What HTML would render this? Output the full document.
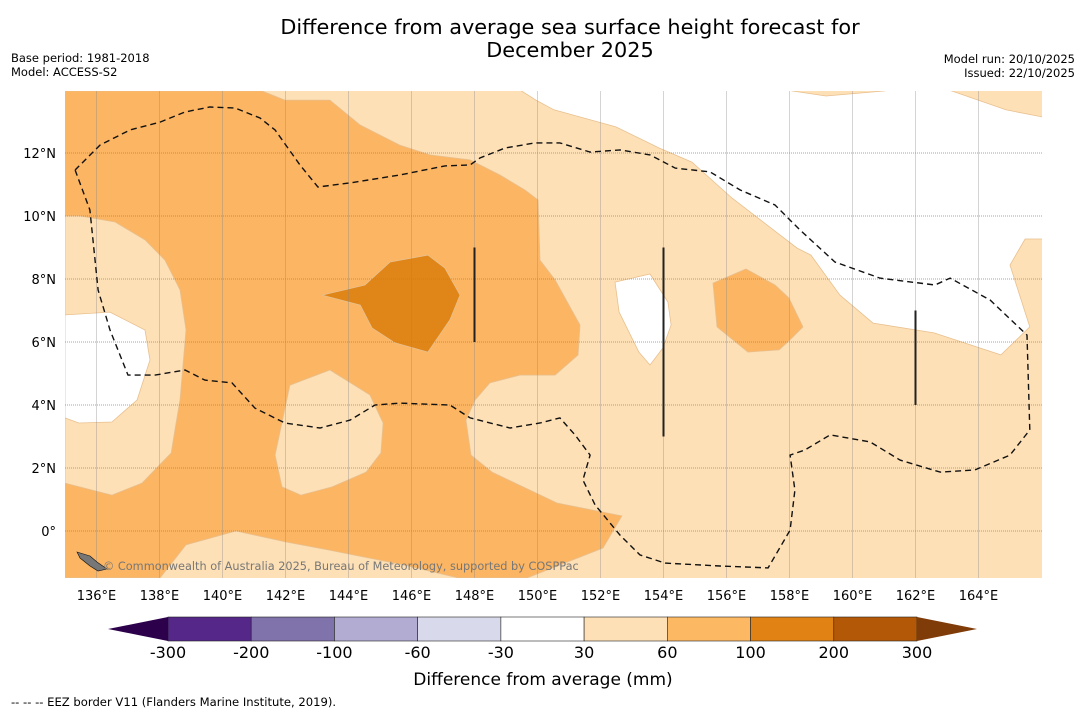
<!DOCTYPE html>
<html><head><meta charset="utf-8"><style>
body{margin:0;background:#fff;width:1085px;height:713px;overflow:hidden;font-family:"Liberation Sans","DejaVu Sans",sans-serif}
</style></head><body>
<svg id="c" width="1085" height="713" xmlns="http://www.w3.org/2000/svg" font-family="DejaVu Sans, Liberation Sans, sans-serif">
<text x="570" y="34" text-anchor="middle" font-size="20.8">Difference from average sea surface height forecast for</text>
<text x="570" y="57" text-anchor="middle" font-size="20.8">December 2025</text>
<text x="11" y="62" font-size="11.5">Base period: 1981-2018</text>
<text x="11" y="76" font-size="11.5">Model: ACCESS-S2</text>
<text x="1075" y="63" font-size="11.5" text-anchor="end">Model run: 20/10/2025</text>
<text x="1075" y="77" font-size="11.5" text-anchor="end">Issued: 22/10/2025</text>
<defs><clipPath id="mc"><rect x="65" y="91" width="977" height="487"/></clipPath></defs>
<g id="map" clip-path="url(#mc)"></g>
<g id="axes"></g>
<g id="cbar"></g>
<text x="11" y="706" font-size="11.6">--  --  -- EEZ border V11 (Flanders Marine Institute, 2019).</text>
</svg>
<script>
const lonTicks=[136,138,140,142,144,146,148,150,152,154,156,158,160,162,164];
const latTicks=[0,2,4,6,8,10,12];
const cbLevels=["-300","-200","-100","-60","-30","30","60","100","200","300"];
const cbColors=["#542788","#8073ac","#b2abd2","#d8daeb","#ffffff","#fee0b6","#fdb863","#e08214","#b35806"];
const cbExtLow="#2d004b", cbExtHigh="#7f3b08";
const orangeRegion=[[135,13.97],[141.25,13.97],[141.98,13.68],[143.41,13.68],[144.37,12.89],[145.63,12.25],[146.59,11.94],[147.86,11.78],[148.81,11.3],[149.6,10.83],[150.02,10.51],[150.08,8.6],[150.56,7.97],[151.35,6.54],[151.29,5.59],[150.56,4.95],[149.44,4.95],[148.49,4.7],[148.02,4.16],[147.73,3.52],[147.89,2.41],[148.56,1.87],[150.62,0.89],[152.68,0.48],[152.08,-0.54],[149.67,-1.49],[147.48,-1.49],[145.76,-1.08],[143.35,-0.6],[142.02,-0.35],[140.43,0],[138.84,-0.44],[138.02,-1.49],[135,-1.49]];
const lightLeft=[[135,10],[135.48,10],[136.59,9.81],[137.54,9.24],[138.17,8.6],[138.65,7.65],[138.84,6.38],[138.65,4.16],[138.49,3.21],[138.37,2.48],[137.44,1.52],[136.49,1.14],[135,1.52]];
const whiteLeft=[[135,6.86],[136.43,6.95],[137.54,6.38],[137.7,5.43],[137.29,4.16],[136.49,3.46],[135.44,3.43],[135,3.59]];
const lightIsland=[[141.67,2.41],[142.14,4.63],[143.41,5.11],[144.68,4.32],[145.1,3.43],[145.03,2.48],[144.56,1.87],[143.48,1.4],[142.49,1.14],[141.89,1.4]];
const darkBlob=[[143.16,7.49],[144.52,7.81],[145.32,8.54],[146.52,8.76],[147.06,8.35],[147.54,7.49],[147.22,6.7],[146.52,5.68],[145.48,5.97],[144.75,6.44],[144.37,7.17]];
const rightBlob=[[155.57,7.87],[156.62,8.32],[157.54,7.81],[157.98,7.4],[158.43,6.48],[157.95,6.0],[157.67,5.75],[156.68,5.68],[155.7,6.48]];
const whiteIsland=[[152.46,7.9],[153.57,8.16],[154.14,7.27],[154.24,6.54],[153.98,5.81],[153.57,5.27],[153.22,5.68],[152.59,6.95]];
const whiteBig=[[149.29,14.1],[149.95,13.68],[150.52,13.37],[152.49,12.83],[153.86,12.16],[154.9,11.71],[156.17,10.57],[158.24,8.98],[158.68,8.76],[159.6,7.49],[160.65,6.6],[162.59,6.29],[164.71,5.59],[165.63,6.48],[165,8.44],[165.48,9.27],[166.5,9.27],[166.5,13.05],[164.87,13.37],[162.78,14.1],[161.03,14.1],[161.03,13.97],[159.16,13.81],[158.08,13.97],[158.08,14.1]];
const eez=[[135.32,11.46],[135.79,10.19],[136.05,7.65],[136.43,6.38],[137,4.95],[137.86,4.95],[138.81,5.11],[139.44,4.79],[140.3,4.7],[141.03,3.9],[141.98,3.43],[143.1,3.27],[144.05,3.52],[144.84,4],[145.63,4.06],[147.22,4],[147.86,3.59],[149.13,3.27],[150.08,3.43],[150.71,3.59],[151.19,3.05],[151.67,2.41],[151.44,1.62],[151.83,0.83],[152.62,-0.13],[153.25,-0.76],[154.05,-1.02],[155.79,-1.11],[157.32,-1.17],[158.02,0.03],[158.17,1.3],[158.02,2.41],[158.49,2.57],[159.29,3.05],[160.56,2.83],[161.51,2.25],[162.78,1.87],[163.89,1.94],[165,2.41],[165.63,3.21],[165.54,6.22],[164.37,7.33],[163.1,8.03],[162.62,7.81],[160.87,8.03],[159.44,8.54],[158.33,9.56],[157.54,10.35],[156.43,10.83],[155.48,11.4],[154.37,11.52],[153.57,11.94],[152.62,12.1],[151.67,12.03],[150.71,12.32],[149.92,12.32],[148.97,12.16],[148.17,11.84],[147.86,11.62],[147.06,11.59],[145.63,11.3],[144.05,11.05],[143.03,10.92],[142.46,11.62],[141.67,12.73],[141.19,13.11],[140.4,13.43],[139.6,13.46],[138.81,13.3],[138.02,12.98],[137.06,12.73],[136.11,12.25],[135.32,11.46]];
const boundaryLines=[[148,6,9],[154,3,9],[162,4,7]];

const NS="http://www.w3.org/2000/svg";
const X=lon=>65+(lon-135)*31.5, Y=lat=>531-lat*31.5;
function mk(tag,attrs,parent){const e=document.createElementNS(NS,tag);for(const k in attrs)e.setAttribute(k,attrs[k]);parent.appendChild(e);return e;}
const map=document.getElementById('map'), axes=document.getElementById('axes'), cb=document.getElementById('cbar');
const pts=a=>a.map(p=>X(p[0]).toFixed(1)+","+Y(p[1]).toFixed(1)).join(" ");
let bg=mk('rect',{x:65,y:91,width:977,height:487,fill:"#fee0b6"},map);


const regions=[[orangeRegion,"#fbb563","orange-region"],[lightLeft,"#fee0b6","light-left-region"],[whiteLeft,"#ffffff","white-left-region"],[lightIsland,"#fee0b6","light-island-region"],[darkBlob,"#e08518","dark-region"],[rightBlob,"#fbb563","orange-right-region"],[whiteIsland,"#ffffff","white-island-region"],[whiteBig,"#ffffff","white-northeast-region"]];
regions.forEach(r=>{const e=mk('polygon',{points:pts(r[0]),fill:r[1],stroke:"#e8c08f","stroke-width":0.8},map);

});
lonTicks.forEach(l=>{const e=mk('line',{x1:X(l),x2:X(l),y1:91,y2:578,stroke:"#888","stroke-width":0.6,"stroke-opacity":0.6},map);

});
latTicks.forEach(l=>{const e=mk('line',{x1:65,x2:1042,y1:Y(l),y2:Y(l),stroke:"#888","stroke-width":0.8,"stroke-dasharray":"1,1"},map);

});
let ez=mk('polyline',{points:pts(eez),fill:"none",stroke:"#111","stroke-width":1.4,"stroke-dasharray":"6,4"},map);


boundaryLines.forEach(b=>{const e=mk('line',{x1:X(b[0]),x2:X(b[0]),y1:Y(b[2]),y2:Y(b[1]),stroke:"#222","stroke-width":2},map);

});
let isl=mk('polygon',{points:"77,552 90,556 97,562 107,569 98,571 90,566 80,558",fill:"#777",stroke:"#111","stroke-width":0.6},map);


let cr=mk('text',{x:103,y:570,"font-size":11.3,fill:"#777"},map);cr.textContent="© Commonwealth of Australia 2025, Bureau of Meteorology, supported by COSPPac";


lonTicks.forEach(l=>{const t=mk('text',{x:X(l),y:600,"font-size":13,"text-anchor":"middle"},axes);t.textContent=l+"°E";

});
latTicks.forEach(l=>{const t=mk('text',{x:56,y:Y(l)+5,"font-size":13,"text-anchor":"end"},axes);t.textContent=l===0?"0°":l+"°N";

});
const cx0=168,cx1=917,cy=617,ch=24,w=(cx1-cx0)/cbColors.length;
cbColors.forEach((c,i)=>{const r=mk('rect',{x:cx0+i*w,y:cy,width:w,height:ch,fill:c,stroke:"#222","stroke-width":0.6},cb);

});
let tl=mk('polygon',{points:`${cx0},${cy} 108,${cy+ch/2} ${cx0},${cy+ch}`,fill:cbExtLow},cb);


let th=mk('polygon',{points:`${cx1},${cy} 977,${cy+ch/2} ${cx1},${cy+ch}`,fill:cbExtHigh},cb);


cbLevels.forEach((v,i)=>{const t=mk('text',{x:cx0+i*w,y:658,"font-size":16,"text-anchor":"middle"},cb);t.textContent=v;

});
let cl=mk('text',{x:543,y:685,"font-size":17,"text-anchor":"middle"},cb);cl.textContent="Difference from average (mm)";


</script>
</body></html>
